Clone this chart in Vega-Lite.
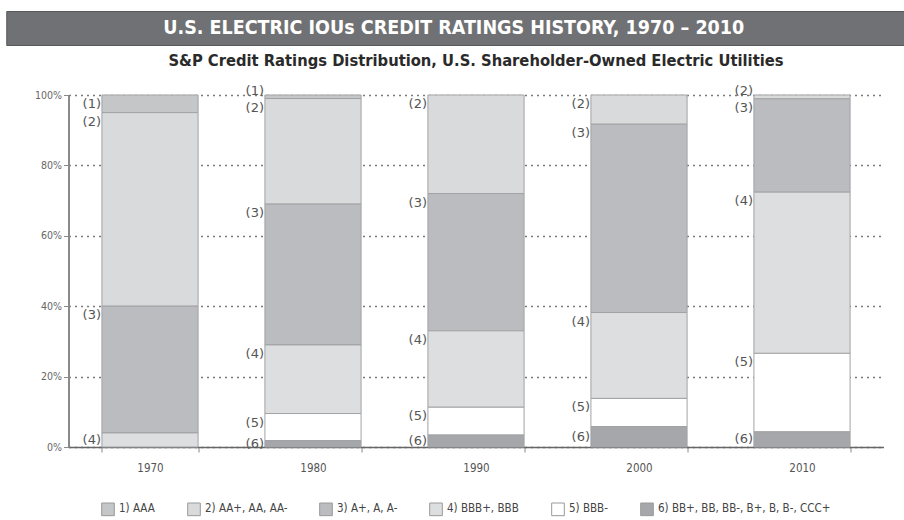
{
  "$schema": "https://vega.github.io/schema/vega-lite/v6.json",
  "background": "white",
  "padding": {"left": 5, "top": 10, "right": -40, "bottom": 0},
  "config": {"view": {"stroke": null}, "font": "'DejaVu Sans Condensed', 'DejaVu Sans', sans-serif"},
  "spacing": 6,
  "center": true,
  "vconcat": [
    {
      "width": 939,
      "height": 34,
      "view": {"fill": "#707174", "stroke": "#58595b"},
      "data": {"values": [{"t": "U.S. ELECTRIC IOUs CREDIT RATINGS HISTORY, 1970 – 2010"}]},
      "mark": {"type": "text", "font": "'DejaVu Sans Condensed', 'DejaVu Sans', sans-serif", "fontWeight": "bold", "fontSize": 19.5, "color": "white", "baseline": "middle", "align": "center", "dx": -22},
      "encoding": {"text": {"field": "t"}}
    },
    {
      "width": 815,
      "height": 352,
      "title": {"text": "S&P Credit Ratings Distribution, U.S. Shareholder-Owned Electric Utilities", "font": "'DejaVu Sans Condensed', 'DejaVu Sans', sans-serif", "fontSize": 16.4, "fontWeight": "bold", "color": "#2a2a2a", "offset": 16, "anchor": "middle"},
      "data": {"values": [
        {"year": "1970", "grade": 1, "rating": "AAA", "pct": 5},
        {"year": "1970", "grade": 2, "rating": "AA+, AA, AA-", "pct": 55},
        {"year": "1970", "grade": 3, "rating": "A+, A, A-", "pct": 36},
        {"year": "1970", "grade": 4, "rating": "BBB+, BBB", "pct": 4},
        {"year": "1980", "grade": 1, "rating": "AAA", "pct": 1},
        {"year": "1980", "grade": 2, "rating": "AA+, AA, AA-", "pct": 30},
        {"year": "1980", "grade": 3, "rating": "A+, A, A-", "pct": 40},
        {"year": "1980", "grade": 4, "rating": "BBB+, BBB", "pct": 19.5},
        {"year": "1980", "grade": 5, "rating": "BBB-", "pct": 7.7},
        {"year": "1980", "grade": 6, "rating": "BB+, BB, BB-, B+, B, B-, CCC+", "pct": 1.8},
        {"year": "1990", "grade": 2, "rating": "AA+, AA, AA-", "pct": 28},
        {"year": "1990", "grade": 3, "rating": "A+, A, A-", "pct": 39},
        {"year": "1990", "grade": 4, "rating": "BBB+, BBB", "pct": 21.7},
        {"year": "1990", "grade": 5, "rating": "BBB-", "pct": 7.9},
        {"year": "1990", "grade": 6, "rating": "BB+, BB, BB-, B+, B, B-, CCC+", "pct": 3.4},
        {"year": "2000", "grade": 2, "rating": "AA+, AA, AA-", "pct": 8.3},
        {"year": "2000", "grade": 3, "rating": "A+, A, A-", "pct": 53.5},
        {"year": "2000", "grade": 4, "rating": "BBB+, BBB", "pct": 24.4},
        {"year": "2000", "grade": 5, "rating": "BBB-", "pct": 8},
        {"year": "2000", "grade": 6, "rating": "BB+, BB, BB-, B+, B, B-, CCC+", "pct": 5.8},
        {"year": "2010", "grade": 2, "rating": "AA+, AA, AA-", "pct": 1.1},
        {"year": "2010", "grade": 3, "rating": "A+, A, A-", "pct": 26.5},
        {"year": "2010", "grade": 4, "rating": "BBB+, BBB", "pct": 45.8},
        {"year": "2010", "grade": 5, "rating": "BBB-", "pct": 22.3},
        {"year": "2010", "grade": 6, "rating": "BB+, BB, BB-, B+, B, B-, CCC+", "pct": 4.3}
      ]},
      "transform": [
        {"stack": "pct", "groupby": ["year"], "sort": [{"field": "grade", "order": "descending"}], "as": ["lo", "hi"]},
        {"calculate": "'(' + datum.grade + ')'", "as": "tag"}
      ],
      "encoding": {
        "x": {
          "field": "year", "type": "ordinal",
          "scale": {"paddingInner": 0.41, "paddingOuter": 0.205},
          "axis": {"title": null, "labelAngle": 0, "tickBand": "extent", "tickSize": 5, "tickColor": "#888888", "domainColor": "#666666", "domainWidth": 1.5, "labelPadding": 10, "labelFontSize": 11.5, "labelColor": "#555555", "grid": false}
        }
      },
      "layer": [
        {
          "mark": {"type": "bar", "stroke": "#a2a3a5", "strokeWidth": 1},
          "encoding": {
            "y": {
              "field": "lo", "type": "quantitative",
              "scale": {"domain": [0, 100], "nice": false},
              "axis": {"values": [0, 20, 40, 60, 80, 100], "labelExpr": "datum.value + '%'", "title": null, "grid": true, "gridDash": [2, 4], "gridColor": "#7a7a7a", "gridWidth": 1.3, "domainColor": "#8a8a8a", "domainWidth": 2, "tickColor": "#8a8a8a", "tickSize": 5, "labelFontSize": 10.5, "labelColor": "#666666", "labelPadding": 2, "minExtent": 62}
            },
            "y2": {"field": "hi"},
            "color": {
              "field": "rating", "type": "nominal",
              "scale": {
                "domain": ["AAA", "AA+, AA, AA-", "A+, A, A-", "BBB+, BBB", "BBB-", "BB+, BB, BB-, B+, B, B-, CCC+"],
                "range": ["#c5c6c8", "#d9dadc", "#bbbcbf", "#dddedf", "#ffffff", "#a6a7aa"]
              },
              "legend": {
                "orient": "none", "legendX": 95, "legendY": 491, "direction": "horizontal", "title": null,
                "symbolType": "square", "symbolSize": 160, "symbolStrokeColor": "#9a9a9a", "symbolStrokeWidth": 1,
                "labelFontSize": 11.5, "labelColor": "#444444", "columnPadding": 26, "labelLimit": 400,
                "labelExpr": "(indexof(['AAA','AA+, AA, AA-','A+, A, A-','BBB+, BBB','BBB-','BB+, BB, BB-, B+, B, B-, CCC+'], datum.label) + 1) + ')  ' + datum.label"
              }
            }
          }
        },
        {
          "transform": [{"filter": "datum.lo > 0 && datum.pct >= 2"}],
          "mark": {"type": "text", "align": "right", "baseline": "top", "dx": -49, "dy": 3, "font": "DejaVu Sans", "fontSize": 13, "color": "#555555"},
          "encoding": {"y": {"field": "hi", "type": "quantitative"}, "text": {"field": "tag"}}
        },
        {
          "transform": [{"filter": "datum.lo > 0 && datum.pct < 2"}],
          "mark": {"type": "text", "align": "right", "baseline": "bottom", "dx": -49, "dy": 3, "font": "DejaVu Sans", "fontSize": 13, "color": "#555555"},
          "encoding": {"y": {"field": "hi", "type": "quantitative"}, "text": {"field": "tag"}}
        },
        {
          "transform": [{"filter": "datum.lo == 0"}, {"calculate": "(datum.lo + datum.hi) / 2", "as": "mid"}],
          "mark": {"type": "text", "align": "right", "baseline": "middle", "dx": -49, "font": "DejaVu Sans", "fontSize": 13, "color": "#555555"},
          "encoding": {"y": {"field": "mid", "type": "quantitative"}, "text": {"field": "tag"}}
        }
      ]
    }
  ]
}
